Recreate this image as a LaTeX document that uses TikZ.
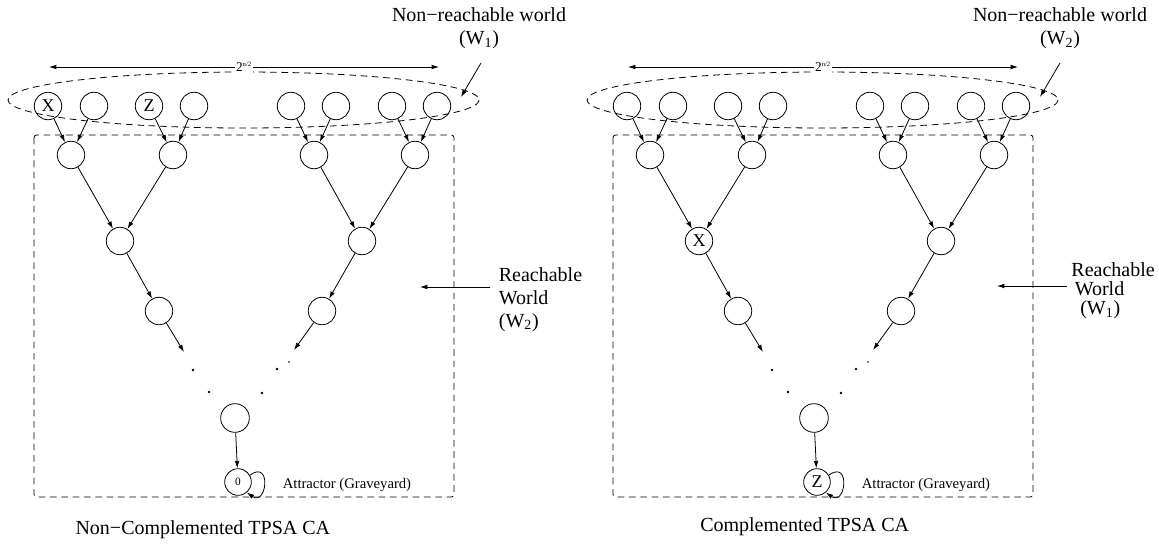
\documentclass[tikz,border=0pt]{standalone}
\usepackage{fontspec}
\setmainfont{Liberation Serif}
\usetikzlibrary{arrows.meta}
\begin{document}
\begin{tikzpicture}[x=0.75pt, y=-0.75pt, line width=0.6pt, >={Latex[length=5.5pt,width=3.5pt]},
  cell/.style={draw, circle, minimum size=20.6pt, inner sep=0pt, font=\fontsize{13.5}{14}\selectfont},
  grave/.style={draw, circle, minimum size=20pt, inner sep=0pt, font=\fontsize{8.5}{9}\selectfont},
  world/.style={dash pattern=on 5pt off 3.5pt},
  caption/.style={font=\fontsize{15}{17}\selectfont},
  dot/.style={fill, circle, inner sep=0pt, minimum size=2.2pt}]
\useasboundingbox (0,0) rectangle (1159,543);

% non-complemented
\draw[world] (243.5,100) ellipse [x radius=235.5, y radius=28];
\draw[world, rounded corners=2pt] (34,135) rectangle (454,497);
\coordinate (ls1) at (49,67);
\coordinate (ls2) at (439,67);
\draw[<->] (ls1) -- (ls2) node[midway, fill=white, inner sep=1pt, font=\fontsize{10}{11}\selectfont] {2\textsuperscript{\tiny n/2}};
\node[cell] (la1) at (48,106) {X};
\node[cell] (la2) at (94,106) {};
\node[cell] (la3) at (149,106) {Z};
\node[cell] (la4) at (194,106) {};
\node[cell] (la5) at (291,106) {};
\node[cell] (la6) at (336,106) {};
\node[cell] (la7) at (392,106) {};
\node[cell] (la8) at (437,106) {};
\node[cell] (lb1) at (71,155) {};
\node[cell] (lb2) at (173,155) {};
\node[cell] (lb3) at (314,155) {};
\node[cell] (lb4) at (415,155) {};
\node[cell] (lc1) at (120,241) {};
\node[cell] (lc2) at (362,241) {};
\node[cell] (ld1) at (159,311) {};
\node[cell] (ld2) at (322,311) {};
\coordinate (lp1) at (184,352);
\coordinate (lp2) at (294,350);
\node[dot] (lq1) at (193,370) {};
\node[dot] (lq2) at (209,392) {};
\node[dot, minimum size=1.4pt] (lq3) at (289,362) {};
\node[dot] (lq4) at (277,369) {};
\node[dot] (lq5) at (262,393) {};
\node[cell, minimum size=21.5pt] (le) at (235,418) {};
\node[grave] (lz) at (238,482) {0};
\node[anchor=west, font=\fontsize{11}{12}\selectfont] (lat) at (278,485) {Attractor (Graveyard)};
\draw[->] (la1) -- (lb1);
\draw[->] (la2) -- (lb1);
\draw[->] (la3) -- (lb2);
\draw[->] (la4) -- (lb2);
\draw[->] (la5) -- (lb3);
\draw[->] (la6) -- (lb3);
\draw[->] (la7) -- (lb4);
\draw[->] (la8) -- (lb4);
\draw[->] (lb1) -- (lc1);
\draw[->] (lb2) -- (lc1);
\draw[->] (lb3) -- (lc2);
\draw[->] (lb4) -- (lc2);
\draw[->] (lc1) -- (ld1);
\draw[->] (lc2) -- (ld2);
\draw[->] (ld1) -- (lp1);
\draw[->] (ld2) -- (lp2);
\draw[->] (le) -- (lz);
\draw[->] (lz.30) .. controls +(22,-16) and +(20,14) .. (lz.-50);
\node[caption, align=center] (lnw) at (479,28) {Non−reachable world\\(W\textsubscript{1})};
\coordinate (lw1) at (481,63);
\coordinate (lw2) at (461,97);
\draw[->] (lw1) -- (lw2);
\node[caption, align=left, anchor=north west] (lrw) at (494,263) {Reachable\\World\\(W\textsubscript{2})};
\coordinate (lr1) at (490,287);
\coordinate (lr2) at (420,287);
\draw[->] (lr1) -- (lr2);
\node[caption, anchor=east] (ltitle) at (335,530) {Non−Complemented TPSA CA};

% complemented
\draw[world] (822.5,100) ellipse [x radius=235.5, y radius=28];
\draw[world, rounded corners=2pt] (613,135) rectangle (1033,497);
\coordinate (rs1) at (628,67);
\coordinate (rs2) at (1018,67);
\draw[<->] (rs1) -- (rs2) node[midway, fill=white, inner sep=1pt, font=\fontsize{10}{11}\selectfont] {2\textsuperscript{\tiny n/2}};
\node[cell] (ra1) at (627,106) {};
\node[cell] (ra2) at (673,106) {};
\node[cell] (ra3) at (728,106) {};
\node[cell] (ra4) at (773,106) {};
\node[cell] (ra5) at (870,106) {};
\node[cell] (ra6) at (915,106) {};
\node[cell] (ra7) at (971,106) {};
\node[cell] (ra8) at (1016,106) {};
\node[cell] (rb1) at (650,155) {};
\node[cell] (rb2) at (752,155) {};
\node[cell] (rb3) at (893,155) {};
\node[cell] (rb4) at (994,155) {};
\node[cell] (rc1) at (699,241) {X};
\node[cell] (rc2) at (941,241) {};
\node[cell] (rd1) at (738,311) {};
\node[cell] (rd2) at (901,311) {};
\coordinate (rp1) at (763,352);
\coordinate (rp2) at (873,350);
\node[dot] (rq1) at (772,370) {};
\node[dot] (rq2) at (788,392) {};
\node[dot, minimum size=1.4pt] (rq3) at (868,362) {};
\node[dot] (rq4) at (856,369) {};
\node[dot] (rq5) at (841,393) {};
\node[cell, minimum size=21.5pt] (re) at (814,418) {};
\node[grave, font=\fontsize{13.5}{14}\selectfont] (rz) at (817,482) {Z};
\node[anchor=west, font=\fontsize{11}{12}\selectfont] (rat) at (857,485) {Attractor (Graveyard)};
\draw[->] (ra1) -- (rb1);
\draw[->] (ra2) -- (rb1);
\draw[->] (ra3) -- (rb2);
\draw[->] (ra4) -- (rb2);
\draw[->] (ra5) -- (rb3);
\draw[->] (ra6) -- (rb3);
\draw[->] (ra7) -- (rb4);
\draw[->] (ra8) -- (rb4);
\draw[->] (rb1) -- (rc1);
\draw[->] (rb2) -- (rc1);
\draw[->] (rb3) -- (rc2);
\draw[->] (rb4) -- (rc2);
\draw[->] (rc1) -- (rd1);
\draw[->] (rc2) -- (rd2);
\draw[->] (rd1) -- (rp1);
\draw[->] (rd2) -- (rp2);
\draw[->] (re) -- (rz);
\draw[->] (rz.30) .. controls +(22,-16) and +(20,14) .. (rz.-50);
\node[caption, align=center] (rnw) at (1060,28) {Non−reachable world\\(W\textsubscript{2})};
\coordinate (rw1) at (1060,63);
\coordinate (rw2) at (1040,97);
\draw[->] (rw1) -- (rw2);
\node[caption, align=left, anchor=north west, inner sep=0pt, font=\fontsize{15}{14.5}\selectfont] (rrw) at (1071,262) {Reachable\\\,World\\\;\,(W\textsubscript{1})};
\coordinate (rr1) at (1067,286);
\coordinate (rr2) at (997,286);
\draw[->] (rr1) -- (rr2);
\node[caption, anchor=east] (rtitle) at (914,527) {Complemented TPSA CA};
\end{tikzpicture}
\end{document}
